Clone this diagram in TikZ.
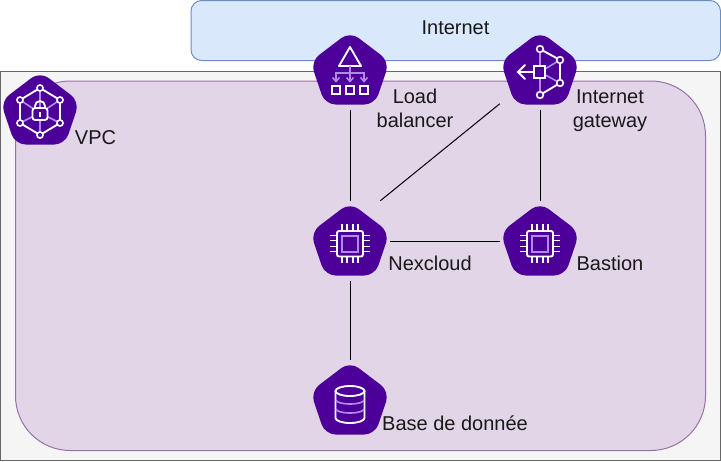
\documentclass[tikz,border=0pt]{standalone}
\usepackage{fontspec}
\setmainfont{Liberation Sans}
\definecolor{iconpurple}{HTML}{4D0099}
\definecolor{iconlight}{HTML}{B18AEB}
\definecolor{vpcfill}{HTML}{E1D5E7}
\definecolor{vpcline}{HTML}{9673A6}
\definecolor{netfill}{HTML}{DAE8FC}
\definecolor{netline}{HTML}{6C8EBF}
\definecolor{areafill}{HTML}{F5F5F5}
\definecolor{arealine}{HTML}{666666}
\tikzset{
  iconbox/.style={minimum size=60pt, inner sep=0pt},
  lbl/.style={font=\fontsize{15}{18}\selectfont, align=center, text=black!90, inner sep=0pt},
  link/.style={line width=0.75pt, black},
  glyph/.style={white, line width=1.4pt},
  glyphlight/.style={iconlight, line width=1.2pt},
  pentagon/.pic={
    \fill[iconpurple, rounded corners=8pt] (0,-38.5) -- (39.5,-8.5) -- (25,34.5) -- (-25,34.5) -- (-39.5,-8.5) -- cycle;
  },
  chipicon/.pic={
    \pic {pentagon};
    \draw[glyphlight] (-8,-5) rectangle (8,11);
    \draw[glyph, rounded corners=1.5pt] (-13,-10) rectangle (13,15.5);
    \foreach \p in {-8,-3,3,8} {
      \draw[white, line width=0.9pt] (\p,-10) -- (\p,-17);
      \draw[white, line width=0.9pt] (\p,15.5) -- (\p,22);
      \draw[white, line width=0.9pt] (-13,\p+2.5) -- (-20,\p+2.5);
      \draw[white, line width=0.9pt] (13,\p+2.5) -- (20,\p+2.5);
    }
  },
  lbicon/.pic={
    \pic {pentagon};
    \draw[glyph, line join=round] (0,-23) -- (11,-4) -- (-11,-4) -- cycle;
    \draw[glyphlight] (0,-4) -- (0,11);
    \draw[glyphlight] (-14,11) -- (-14,3) -- (14,3) -- (14,11);
    \foreach \p in {-14,0,14} {
      \draw[glyphlight] (\p-3.5,7.5) -- (\p,11.5) -- (\p+3.5,7.5);
    }
    \foreach \p in {-14,0,14} {
      \draw[white, line width=1.2pt] (\p-4,16) rectangle (\p+4,24);
    }
  },
  gatewayicon/.pic={
    \pic {pentagon};
    \draw[glyphlight] (0,-21) -- (0,25);
    \draw[glyphlight] (0,2) -- (20,-10);
    \draw[glyphlight] (0,2) -- (20,13);
    \draw[glyph] (0,-21) -- (20,-10) -- (20,13) -- (0,25);
    \foreach \p/\q in {0/-21, 20/-10, 20/13, 0/25} {
      \draw[white, line width=1.2pt, fill=iconpurple] (\p,\q) circle (2.5pt);
    }
    \draw[white, line width=1.4pt, fill=iconpurple] (-6,-4) rectangle (5,8);
    \draw[glyph] (-6,2) -- (-22,2);
    \draw[glyph, line cap=round] (-15,-5) -- (-22,2) -- (-15,9);
  },
  vpcicon/.pic={
    \pic {pentagon};
    \foreach \p/\q in {0/-22, 20/-10, 20/13, 0/25, -20/13, -20/-10} {
      \draw[glyphlight] (0,3) -- (\p,\q);
    }
    \draw[glyph] (0,-22) -- (20,-10) -- (20,13) -- (0,25) -- (-20,13) -- (-20,-10) -- cycle;
    \foreach \p/\q in {0/-22, 20/-10, 20/13, 0/25, -20/13, -20/-10} {
      \draw[white, line width=1.2pt, fill=iconpurple] (\p,\q) circle (2.3pt);
    }
    \draw[glyph] (-5,-2) -- (-5,-4) arc[start angle=180, end angle=0, radius=3.75pt] -- (5,-4) -- (5,-2);
    \draw[glyph, fill=iconpurple, rounded corners=2pt] (-7.5,-2) rectangle (7.5,10);
    \fill[white] (-1,1.5) rectangle (1,6.5);
  },
  dbicon/.pic={
    \pic {pentagon};
    \draw[glyph] (-14.5,-9) -- (-14.5,18) arc[start angle=180, end angle=360, x radius=10.875pt, y radius=3.75pt] -- (14.5,-9);
    \draw[glyph] (0,-9) ellipse (10.875pt and 3.75pt);
    \draw[glyphlight] (-14,0) arc[start angle=180, end angle=360, x radius=10.5pt, y radius=3pt];
    \draw[glyphlight] (-14,9) arc[start angle=180, end angle=360, x radius=10.5pt, y radius=3pt];
  },
}
\begin{document}
\begin{tikzpicture}[x=0.75pt, y=-0.75pt]
  \useasboundingbox (0,0) rectangle (721,461);

  % Outer area and VPC
  \draw[draw=arealine, fill=areafill, line width=0.75pt] (0.5,71) rectangle (720.5,460.5);
  \draw[draw=vpcline, fill=vpcfill, line width=0.75pt, rounded corners=41pt] (15.5,81) rectangle (705.5,450.5);
  \draw[draw=netline, fill=netfill, line width=0.75pt, rounded corners=8pt] (191,0.5) rectangle (720.5,60.5);
  \node[lbl] (internet) at (455.5,28) {Internet};

  % Icon places
  \node[iconbox] (lb) at (350,70) {};
  \node[iconbox] (gw) at (540,70) {};
  \node[iconbox] (vpc) at (40,110) {};
  \node[iconbox] (nex) at (350,241) {};
  \node[iconbox] (bastion) at (540,241) {};
  \node[iconbox] (db) at (350,400) {};

  % Links
  \draw[link] (lb.south) -- (nex.north);
  \draw[link] (gw.220) -- (nex.53);
  \draw[link] (gw.south) -- (bastion.north);
  \draw[link] (nex.east) -- (bastion.west);
  \draw[link] (nex.south) -- (db.north);

  % Icons
  \pic at (lb) {lbicon};
  \pic at (gw) {gatewayicon};
  \pic at (vpc) {vpcicon};
  \pic at (nex) {chipicon};
  \pic at (bastion) {chipicon};
  \pic at (db) {dbicon};

  % Labels
  \node[lbl] (lblb) at (415,108) {Load\\balancer};
  \node[lbl] (lbgw) at (610,111) {Internet\\gateway};
  \node[lbl] (lbvpc) at (95.5,138) {VPC};
  \node[lbl] (lbnex) at (430,263) {Nexcloud};
  \node[lbl] (lbbastion) at (610,263) {Bastion};
  \node[lbl] (lbdb) at (455,423) {Base de donnée};
\end{tikzpicture}
\end{document}
